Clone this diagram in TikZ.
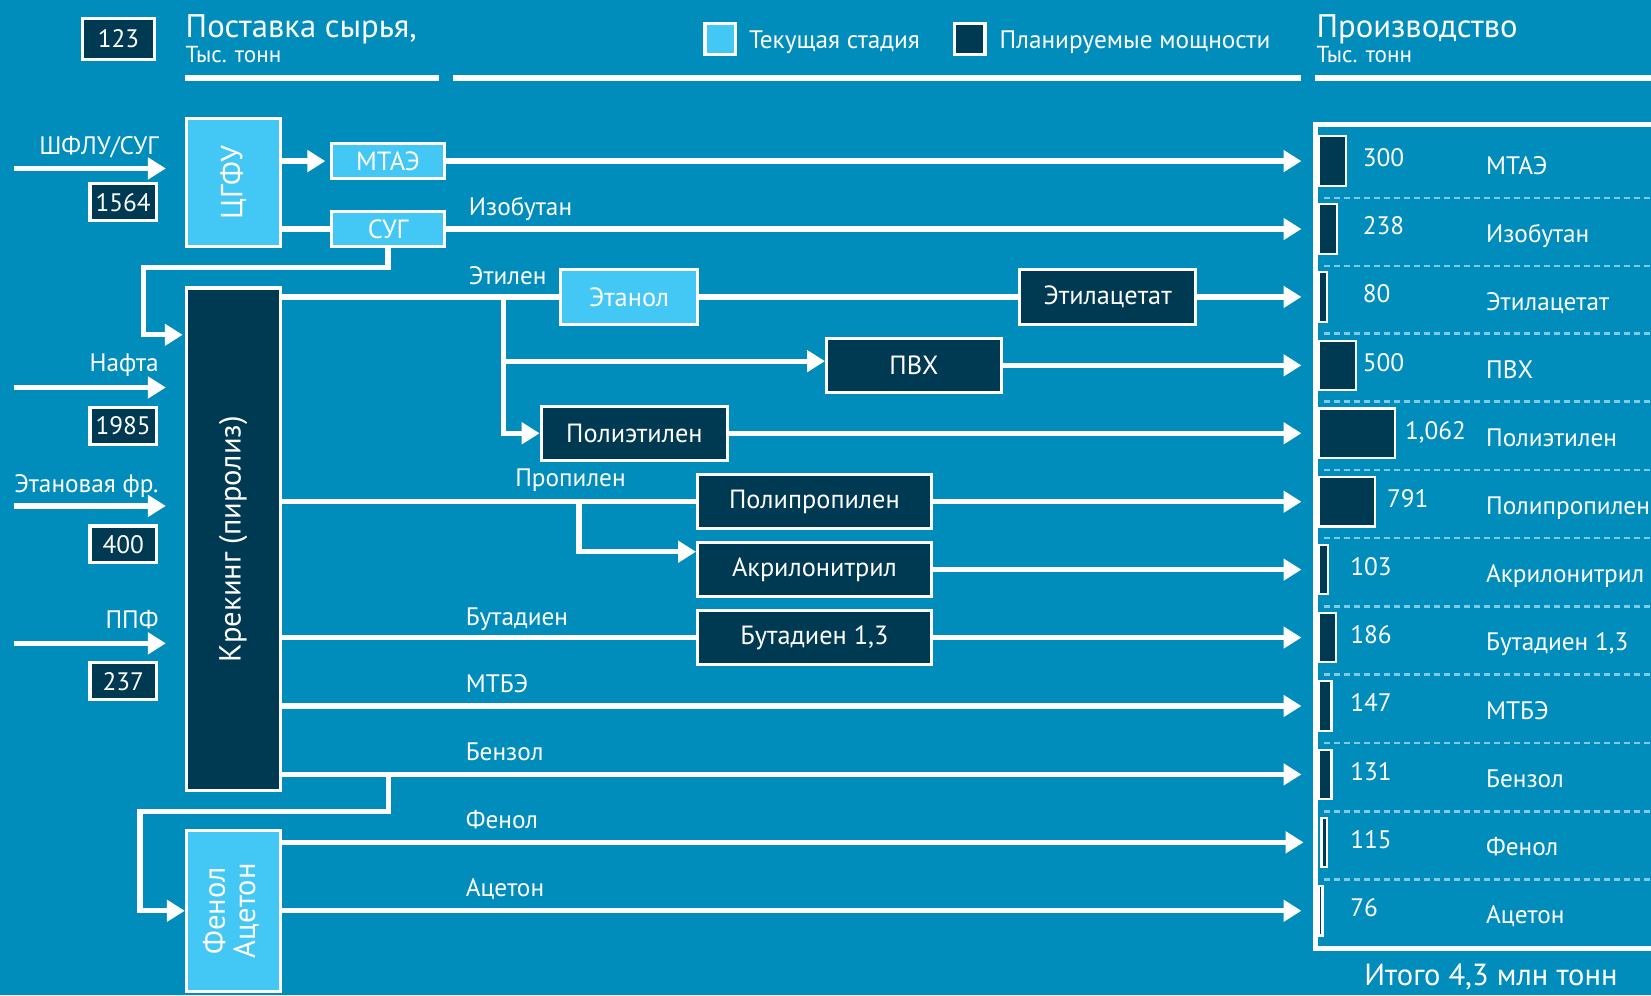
\documentclass[tikz,border=0pt]{standalone}
\usepackage{fontspec}
\setmainfont{PT Sans}
\usetikzlibrary{arrows.meta}

\definecolor{bgblue}{RGB}{0,141,188}
\definecolor{lightblue}{RGB}{67,199,244}
\definecolor{darkblue}{RGB}{0,58,82}
\definecolor{dashblue}{RGB}{128,202,230}

\begin{document}
\begin{tikzpicture}[x=0.5pt, y=-0.5pt]

    \tikzstyle{box} = [draw=white, line width=1.5pt, inner sep=0, text=white, font=\fontsize{12.5}{14}\selectfont];
    \tikzstyle{lightbox} = [box, fill=lightblue];
    \tikzstyle{darkbox} = [box, fill=darkblue];
    \tikzstyle{valbox} = [darkbox, minimum width=31.5pt, minimum height=17.5pt, font=\fontsize{12}{14}\selectfont];
    \tikzstyle{vertbox} = [box, minimum width=44.5pt, font=\fontsize{14.5}{13.5}\selectfont];
    \tikzstyle{barnode} = [draw=white, line width=1pt, fill=darkblue, minimum height=23.5pt, inner sep=0, anchor=west];
    \tikzstyle{lbl} = [text=white, inner sep=0, font=\fontsize{12}{14}\selectfont];
    \tikzstyle{flow} = [white, line width=2.5pt];
    \tikzstyle{arrow} = [flow, -{Triangle[width=10pt, length=8.5pt]}];
    \tikzstyle{tobar} = [arrow, shorten >=8pt];
    \tikzstyle{sep} = [dashblue, line width=1.25pt, dash pattern=on 2.85pt off 1.9pt];
    \tikzstyle{rule} = [white, line width=2.75pt];

    \useasboundingbox (0,0) rectangle (1568,945);
    \fill[bgblue] (0,0) rectangle (1568,945);

    % Header
    \node[darkbox, minimum width=34pt, minimum height=19.5pt, font=\fontsize{12}{14}\selectfont] (key) at (112.5,37) {123};
    \node[lbl, anchor=base west, font=\fontsize{15.5}{16}\selectfont] (supply) at (176,36) {Поставка сырья,};
    \node[lbl, anchor=base west, font=\fontsize{11}{12}\selectfont] (supplyunit) at (176,59.5) {Тыс. тонн};
    \node[lbl, anchor=base west, font=\fontsize{15.5}{16}\selectfont] (prod) at (1250,36) {Производство};
    \node[lbl, anchor=base west, font=\fontsize{11}{12}\selectfont] (produnit) at (1250,59.5) {Тыс. тонн};

    \node[lightbox, minimum size=14.5pt] (legcur) at (684,37) {};
    \node[lbl, anchor=base west] (legcurtxt) at (711,46) {Текущая стадия};
    \node[darkbox, minimum size=14.5pt] (legplan) at (921,37) {};
    \node[lbl, anchor=base west] (legplantxt) at (949,46) {Планируемые мощности};

    \draw[rule] (176,74) -- (417,74);
    \draw[rule] (430,74) -- (1236,74);
    \draw[rule] (1249,74) -- (1568,74);

    % Left - Inputs
    \coordinate (inshflu) at (13,160);
    \coordinate (innafta) at (13,368);
    \coordinate (inethane) at (13,480.5);
    \coordinate (inppf) at (13,611);

    \node[lbl, anchor=base east] (lshflu) at (151,147) {ШФЛУ/СУГ};
    \node[lbl, anchor=base east] (lnafta) at (151,353) {Нафта};
    \node[lbl, anchor=base east] (lethane) at (151,468) {Этановая фр.};
    \node[lbl, anchor=base east] (lppf) at (151,597) {ППФ};

    \node[valbox] (v1564) at (117,192) {1564};
    \node[valbox] (v1985) at (117,404.5) {1985};
    \node[valbox] (v400) at (117,517) {400};
    \node[valbox] (v237) at (117,647) {237};

    % Left - Units
    \node[vertbox, fill=lightblue, minimum height=61pt] (cgfu) at (221.5,173.5) {\rotatebox{90}{ЦГФУ}};
    \node[vertbox, fill=darkblue, minimum height=238.5pt] (crack) at (221.5,512) {\rotatebox{90}{Крекинг (пиролиз)}};
    \node[vertbox, fill=lightblue, minimum height=76.5pt] (phen) at (221.5,865) {\rotatebox{90}{\begin{tabular}{@{}c@{}}Фенол\\Ацетон\end{tabular}}};

    \draw[arrow, shorten >=9pt] (inshflu) -- (inshflu -| cgfu.west);
    \draw[arrow, shorten >=9pt] (innafta) -- (innafta -| crack.west);
    \draw[arrow, shorten >=9pt] (inethane) -- (inethane -| crack.west);
    \draw[arrow, shorten >=9pt] (inppf) -- (inppf -| crack.west);

    % Middle - Products
    \node[lightbox, minimum width=54pt, minimum height=16.5pt] (mtae) at (368.5,153) {МТАЭ};
    \node[lightbox, minimum width=54pt, minimum height=17pt] (sug) at (368.5,217.5) {СУГ};
    \node[lightbox, minimum width=65pt, minimum height=26pt] (ethanol) at (597.5,282) {Этанол};
    \node[darkbox, minimum width=83.5pt, minimum height=26pt] (ethac) at (1052,282) {Этилацетат};
    \node[darkbox, minimum width=83pt, minimum height=25.5pt] (pvh) at (868,347) {ПВХ};
    \node[darkbox, minimum width=88.5pt, minimum height=25.5pt] (pe) at (602.5,411.5) {Полиэтилен};
    \node[darkbox, minimum width=111pt, minimum height=25.5pt] (pp) at (773.5,476.5) {Полипропилен};
    \node[darkbox, minimum width=111pt, minimum height=25.5pt] (acn) at (773.5,541) {Акрилонитрил};
    \node[darkbox, minimum width=111pt, minimum height=25.5pt] (bd) at (773.5,605.5) {Бутадиен 1,3};

    \node[lbl, anchor=base west] (lisobut) at (445,205) {Изобутан};
    \node[lbl, anchor=base west] (lethyl) at (445,270) {Этилен};
    \node[lbl, anchor=base west] (lpropyl) at (489,462) {Пропилен};
    \node[lbl, anchor=base west] (lbutad) at (442,594) {Бутадиен};
    \node[lbl, anchor=base west] (lmtbe) at (442,658) {МТБЭ};
    \node[lbl, anchor=base west] (lbenz) at (442,722) {Бензол};
    \node[lbl, anchor=base west] (lphen) at (442,787) {Фенол};
    \node[lbl, anchor=base west] (lacet) at (442,851) {Ацетон};

    % Right - Output
    \draw[white, line width=2.35pt] (1568,118) -- (1249,118) -- (1249,901) -- (1568,901);

    \draw[sep] (1257,188) -- (1568,188);
    \draw[sep] (1257,252.5) -- (1568,252.5);
    \draw[sep] (1257,317) -- (1568,317);
    \draw[sep] (1257,381.5) -- (1568,381.5);
    \draw[sep] (1257,446.5) -- (1568,446.5);
    \draw[sep] (1257,511) -- (1568,511);
    \draw[sep] (1257,576) -- (1568,576);
    \draw[sep] (1257,640.5) -- (1568,640.5);
    \draw[sep] (1257,705.5) -- (1568,705.5);
    \draw[sep] (1257,770.5) -- (1568,770.5);
    \draw[sep] (1257,835) -- (1568,835);

    \node[barnode, minimum width=12.75pt] (b1) at (1252,153) {};
    \node[barnode, minimum width=8.25pt] (b2) at (1252,217.5) {};
    \node[barnode, minimum width=3.5pt] (b3) at (1252,282) {};
    \node[barnode, minimum width=17.5pt] (b4) at (1252,347) {};
    \node[barnode, minimum width=36pt] (b5) at (1252,411.5) {};
    \node[barnode, minimum width=26.5pt] (b6) at (1252,476.5) {};
    \node[barnode, minimum width=4.25pt] (b7) at (1252,541) {};
    \node[barnode, minimum width=8pt] (b8) at (1252,605.5) {};
    \node[barnode, minimum width=5.75pt] (b9) at (1252,670.5) {};
    \node[barnode, minimum width=5.75pt] (b10) at (1252,735.5) {};
    \node[barnode, minimum width=2.75pt] (b11) at (1254,800) {};
    \node[barnode, minimum width=1.5pt] (b12) at (1252,865) {};

    \node[lbl, anchor=base west] (n1) at (1294,158.5) {300};
    \node[lbl, anchor=base west] (n2) at (1294,223) {238};
    \node[lbl, anchor=base west] (n3) at (1294,287.5) {80};
    \node[lbl, anchor=base west] (n4) at (1294,352.5) {500};
    \node[lbl, anchor=base west] (n5) at (1334,417) {1,062};
    \node[lbl, anchor=base west] (n6) at (1317,482) {791};
    \node[lbl, anchor=base west] (n7) at (1282,546.5) {103};
    \node[lbl, anchor=base west] (n8) at (1282,611) {186};
    \node[lbl, anchor=base west] (n9) at (1282,676) {147};
    \node[lbl, anchor=base west] (n10) at (1282,741) {131};
    \node[lbl, anchor=base west] (n11) at (1282,805.5) {115};
    \node[lbl, anchor=base west] (n12) at (1282,870.5) {76};

    \node[lbl, anchor=base west] (p1) at (1411,165.5) {МТАЭ};
    \node[lbl, anchor=base west] (p2) at (1411,230) {Изобутан};
    \node[lbl, anchor=base west] (p3) at (1411,294.5) {Этилацетат};
    \node[lbl, anchor=base west] (p4) at (1411,359.5) {ПВХ};
    \node[lbl, anchor=base west] (p5) at (1411,424) {Полиэтилен};
    \node[lbl, anchor=base west] (p6) at (1411,489) {Полипропилен};
    \node[lbl, anchor=base west] (p7) at (1411,553.5) {Акрилонитрил};
    \node[lbl, anchor=base west] (p8) at (1411,618) {Бутадиен 1,3};
    \node[lbl, anchor=base west] (p9) at (1411,683) {МТБЭ};
    \node[lbl, anchor=base west] (p10) at (1411,748) {Бензол};
    \node[lbl, anchor=base west] (p11) at (1411,812.5) {Фенол};
    \node[lbl, anchor=base west] (p12) at (1411,877.5) {Ацетон};

    \node[lbl, anchor=base, font=\fontsize{14.5}{16}\selectfont] (total) at (1416,936) {Итого 4,3 млн тонн};

    % Connectors
    \draw[arrow, shorten >=2pt] (cgfu.east |- mtae) -- (mtae.west);
    \draw[flow] (cgfu.east |- sug) -- (sug.west);
    \draw[tobar] (mtae.east) -- (b1.west);
    \draw[tobar] (sug.east) -- (b2.west);

    \coordinate (sugturn) at (136,254);
    \draw[arrow, shorten >=1pt] (sug.south) |- (sugturn) |- ([yshift=97pt]crack.west);

    \draw[flow] (crack.east |- ethanol) -- (ethanol.west);
    \draw[flow] (ethanol.east) -- (ethac.west);
    \draw[tobar] (ethac.east) -- (b3.west);

    \coordinate (ethsplit) at (478,282);
    \coordinate (pvhin) at (478,343);
    \draw[arrow] (ethsplit) |- (pe.west);
    \draw[arrow] (pvhin) -- (pvhin -| pvh.west);
    \draw[tobar] (pvh.east) -- (b4.west);
    \draw[tobar] (pe.east) -- (b5.west);

    \coordinate (ppsplit) at (550,476.5);
    \draw[flow] (crack.east |- pp) -- (pp.west);
    \draw[arrow] (ppsplit) |- ([yshift=8.5pt]acn.west);
    \draw[tobar] (pp.east) -- (b6.west);
    \draw[tobar] (acn.east) -- (b7.west);

    \draw[flow] (crack.east |- bd) -- (bd.west);
    \draw[tobar] (bd.east) -- (b8.west);
    \draw[tobar] (crack.east |- b9) -- (b9.west);
    \draw[tobar] (crack.east |- b10) -- (b10.west);

    \coordinate (bnzsplit) at (369,735.5);
    \coordinate (bnzturn) at (133,771);
    \draw[arrow] (bnzsplit) |- (bnzturn) |- (phen.west);

    \draw[tobar] (phen.east |- b11) -- (b11.west);
    \draw[tobar] (phen.east |- b12) -- (b12.west);

\end{tikzpicture}
\end{document}
